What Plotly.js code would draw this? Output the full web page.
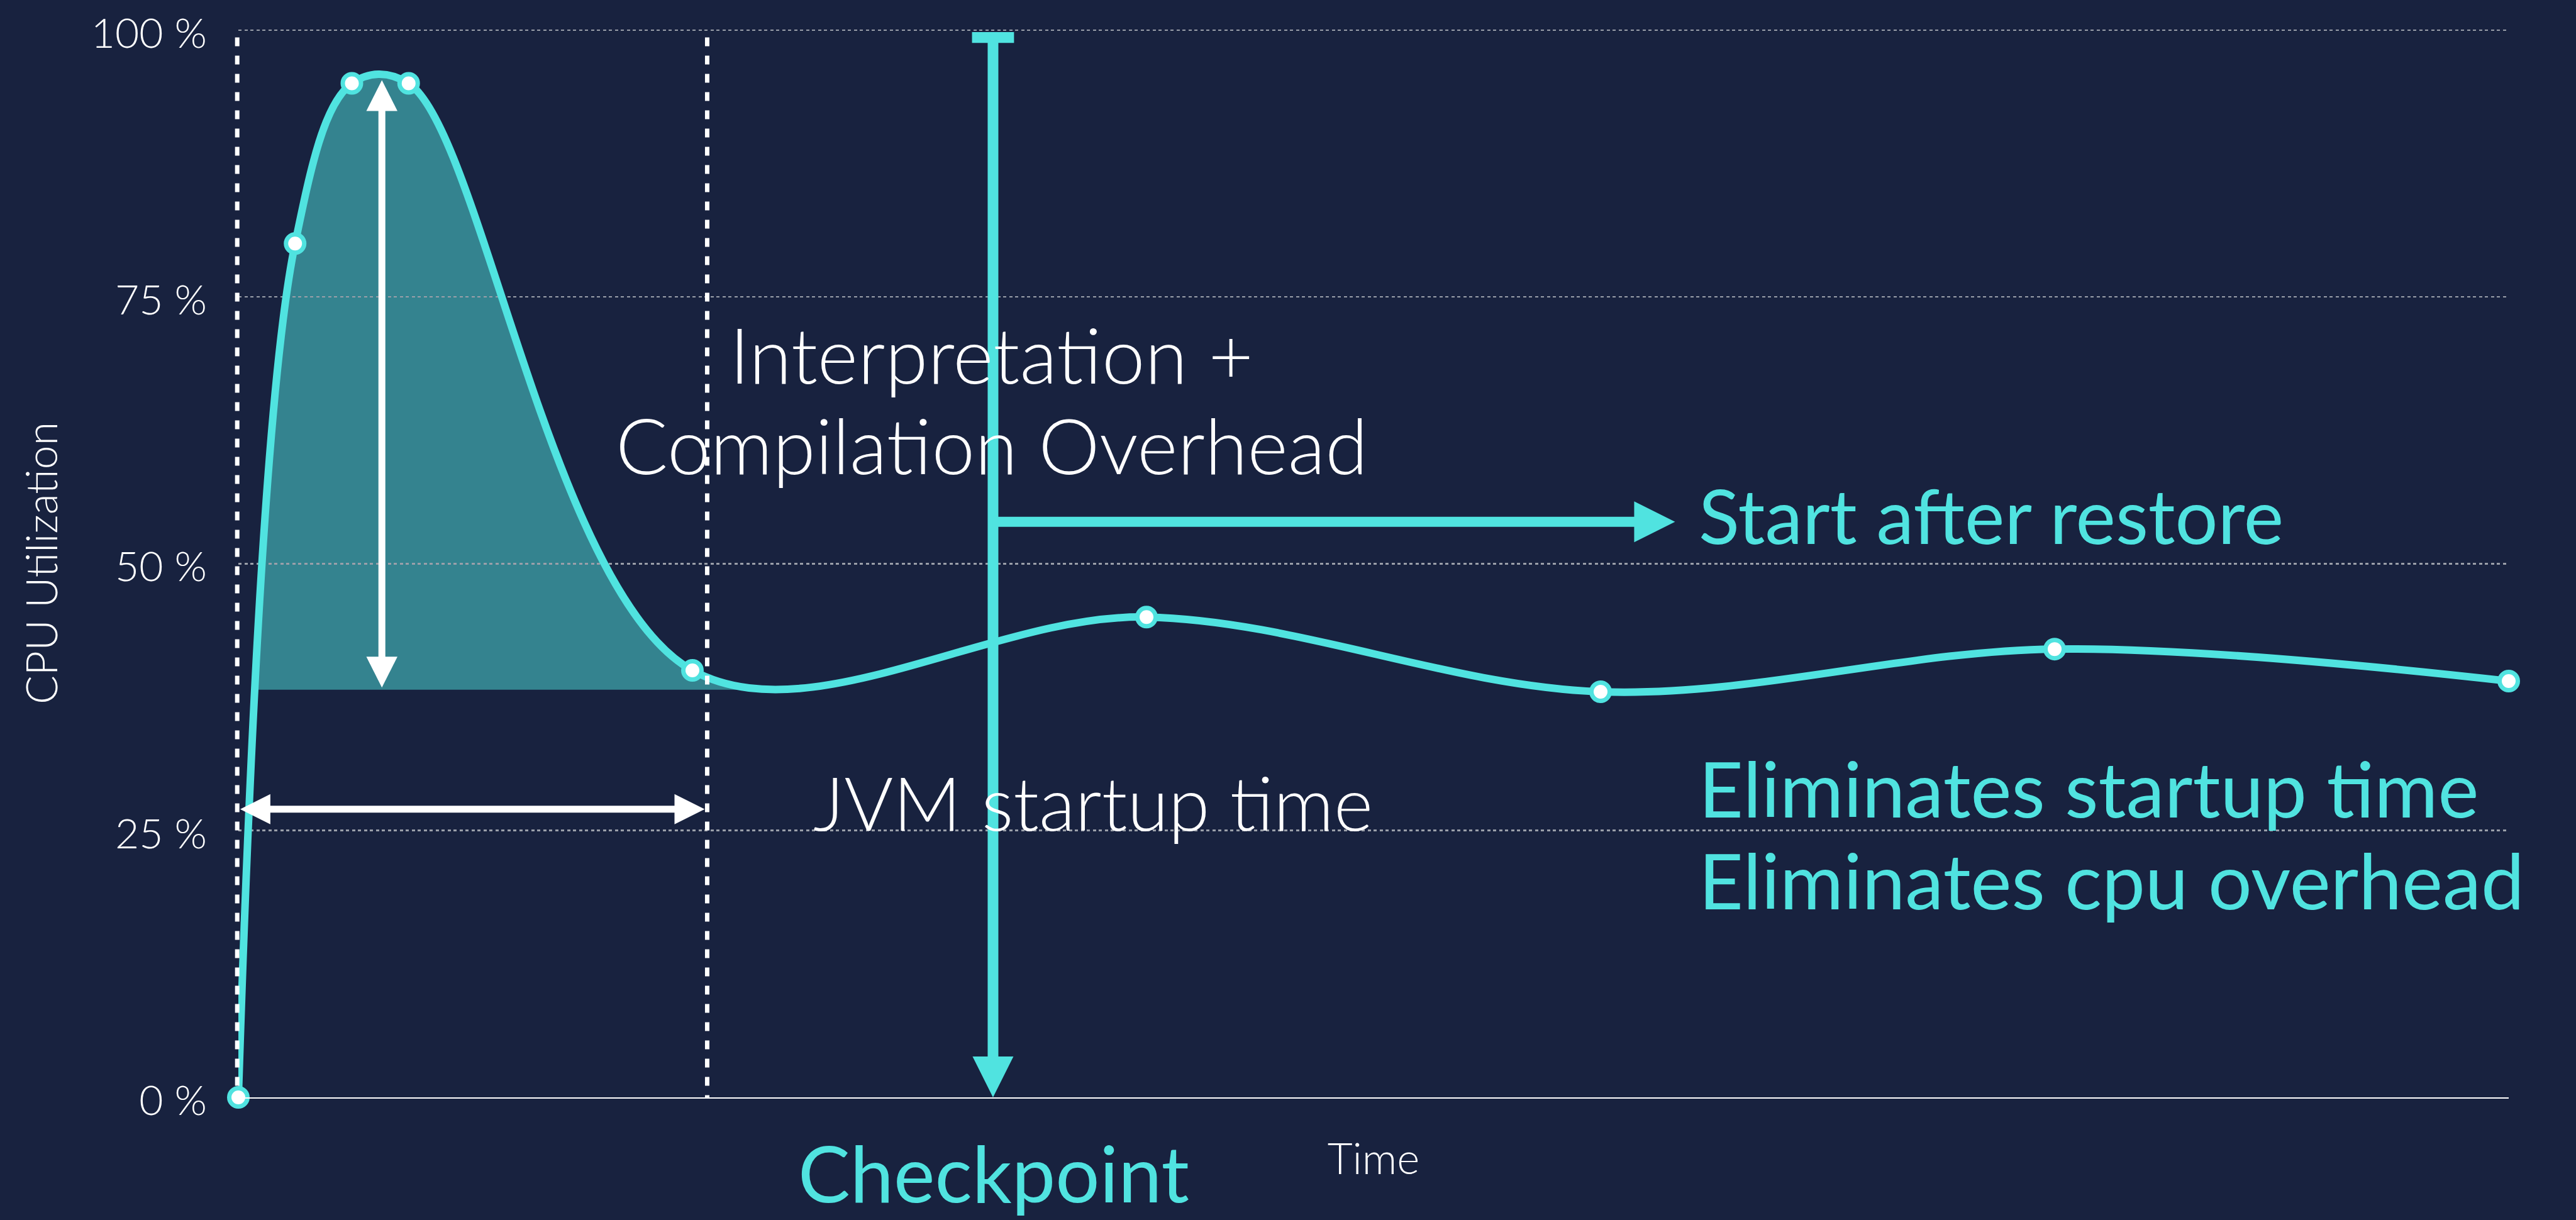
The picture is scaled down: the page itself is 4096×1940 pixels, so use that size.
<!DOCTYPE html>
<html>
<head>
<meta charset="utf-8">
<script src="https://cdn.plot.ly/plotly-3.0.1.min.js"></script>
<style>
  html, body { margin: 0; padding: 0; background: #18223f; overflow: hidden; }
  #chart { width: 4096px; height: 1940px; }
</style>
</head>
<body>
<div id="chart"></div>
<script>
// CPU utilization of a JVM: normal startup vs. start after restore from checkpoint
const timeSteps = [0, 0.125, 0.25, 0.375, 1, 2, 3, 4, 5];
const cpuUtilization = [0, 80, 95, 95, 40, 45, 38, 42, 39];
const yTickValues = [0, 25, 50, 75, 100];
const yTickLabels = ["0 %", "25 %", "50 %", "75 %", "100 %"];

// annotation anchors, in axis units
const overheadFloor = 38.2;
const overheadStart = 0.036;
const overheadEnd = 1.17;
const startupBegin = -0.0025;
const startupEnd = 1.0325;
const checkpointX = 1.662;
const checkpointTop = 99.3;
const restoreY = 53.92;
const restoreTip = 3.164;
const peakArrowX = 0.3161;
const peakArrowTop = 95.3;
const peakArrowBottom = 38.4;
const startupArrowY = 27;
const startupArrowLeft = 0.004;
const startupArrowRight = 1.027;

const BG = "#18223f";
const CYAN = "#50e3e0";
const WHITE = "#ffffff";
const GRID = "#9a9fa9";
const THIN = { family: "Lato, 'Open Sans', sans-serif", color: WHITE, weight: 300 };
const REG = { family: "Lato, 'Open Sans', sans-serif", color: CYAN, weight: 400 };

const xMax = timeSteps[timeSteps.length - 1];

// shaded area sits on its own clipped x axis so it stops after the startup phase
const floorTrace = {
    type: "scatter", mode: "lines",
    x: [overheadStart, xMax], y: [overheadFloor, overheadFloor],
    xaxis: "x", yaxis: "y",
    line: { width: 0 }, hoverinfo: "skip",
};
const overheadTrace = {
    type: "scatter", mode: "lines",
    x: timeSteps, y: cpuUtilization,
    xaxis: "x", yaxis: "y",
    line: { shape: "spline", width: 0 },
    fill: "tonexty", fillcolor: "rgba(80,227,224,0.5)",
    hoverinfo: "skip",
};
const cpuTrace = {
    type: "scatter", mode: "lines+markers",
    x: timeSteps, y: cpuUtilization,
    xaxis: "x2", yaxis: "y",
    line: { shape: "spline", color: CYAN, width: 12 },
    marker: { size: 29, color: WHITE, line: { color: CYAN, width: 7 } },
    cliponaxis: false,
};

// dashed phase markers use paper x so the one on the y axis is not half clipped
function dashed(x) {
    return { type: "line", xref: "paper", yref: "y", x0: x / xMax, x1: x / xMax, y0: checkpointTop, y1: 0,
        layer: "above", line: { color: WHITE, width: 7, dash: "14px,15px" } };
}
function vline(x, y0, y1, color, width) {
    return { type: "line", xref: "x2", yref: "y", x0: x, x1: x, y0: y0, y1: y1, layer: "above",
        line: { color: color, width: width } };
}
function hline(y, x0, x1, color, width) {
    return { type: "line", xref: "x2", yref: "y", x0: x0, x1: x1, y0: y, y1: y, layer: "above",
        line: { color: color, width: width } };
}
// arrow head drawn in pixels, tip at the anchor
function head(x, y, path, color) {
    return { type: "path", xref: "x2", yref: "y", xsizemode: "pixel", ysizemode: "pixel",
        xanchor: x, yanchor: y, path: path, fillcolor: color, layer: "above", line: { width: 0 } };
}

const shapes = [
    dashed(startupBegin),
    dashed(startupEnd),
    vline(peakArrowX, peakArrowBottom + 1.5, peakArrowTop - 1.5, WHITE, 11),
    head(peakArrowX, peakArrowTop, "M-24.75,-49L24.75,-49L0,0Z", WHITE),
    head(peakArrowX, peakArrowBottom, "M-24.75,49L24.75,49L0,0Z", WHITE),
    hline(startupArrowY, startupArrowLeft + 0.034, startupArrowRight - 0.034, WHITE, 11),
    head(startupArrowLeft, startupArrowY, "M48,-24L48,24L0,0Z", WHITE),
    head(startupArrowRight, startupArrowY, "M-48,-24L-48,24L0,0Z", WHITE),
    vline(checkpointX, checkpointTop, 2, CYAN, 17),
    { type: "rect", xref: "x2", yref: "y", xsizemode: "pixel", ysizemode: "pixel",
      xanchor: checkpointX, yanchor: checkpointTop, x0: -33.4, x1: 33.4, y0: -8.7, y1: 8.7,
      fillcolor: CYAN, line: { width: 0 }, layer: "above" },
    head(checkpointX, 0, "M-32.5,65L32.5,65L0,0Z", CYAN),
    hline(restoreY, checkpointX, restoreTip - 0.045, CYAN, 16),
    head(restoreTip, restoreY, "M-65,-32.5L-65,32.5L0,0Z", CYAN),
];

function label(text, x, y, font, size, xanchor, yref) {
    return { text: text, x: x, y: y, xref: "x2", yref: yref || "y", showarrow: false,
        xanchor: xanchor || "center", yanchor: "middle", font: Object.assign({ size: size }, font) };
}

const annotations = [
    label("Interpretation +", 1.659, 69.65, THIN, 123),
    label("Compilation Overhead", 1.659, 61.21, THIN, 123),
    label("JVM startup time", 1.882, 27.68, THIN, 119),
    label("Start after restore", 3.213, 54.53, REG, 120, "left"),
    label("Eliminates startup time", 3.213, 29.0, REG, 123, "left"),
    label("Eliminates cpu overhead", 3.213, 20.41, REG, 123, "left"),
    // below the axis: placed in paper units so it is not hidden
    label("Checkpoint", 1.664, -0.0698, REG, 124, "center", "paper"),
];

const layout = {
    width: 4096, height: 1940,
    paper_bgcolor: BG, plot_bgcolor: "rgba(0,0,0,0)",
    margin: { l: 379, r: 107, t: 45.5, b: 194.5, pad: 0 },
    showlegend: false,
    xaxis: { domain: [0, overheadEnd / xMax], range: [0, overheadEnd], visible: false, fixedrange: true },
    xaxis2: {
        domain: [0, 1], range: [0, xMax], anchor: "y",
        showgrid: false, zeroline: false, showline: true, linecolor: WHITE, linewidth: 2,
        ticks: "", showticklabels: false,
        title: { text: "Time", standoff: 73, font: Object.assign({ size: 69 }, THIN) },
    },
    yaxis: {
        range: [0, 100.1], anchor: "x2",
        tickmode: "array", tickvals: yTickValues, ticktext: yTickLabels,
        showgrid: true, gridcolor: GRID, gridwidth: 2.4, griddash: "5px,4.5px",
        zeroline: false, showline: false, ticks: "",
        ticklabelstandoff: 49, ticklabelshift: 5,
        tickfont: Object.assign({ size: 66 }, THIN),
        title: { text: "CPU Utilization", standoff: 30, font: Object.assign({ size: 68 }, THIN) },
    },
    shapes: shapes,
    annotations: annotations,
};

Plotly.newPlot("chart", [floorTrace, overheadTrace, cpuTrace], layout, { displayModeBar: false, staticPlot: true });
</script>
</body>
</html>
